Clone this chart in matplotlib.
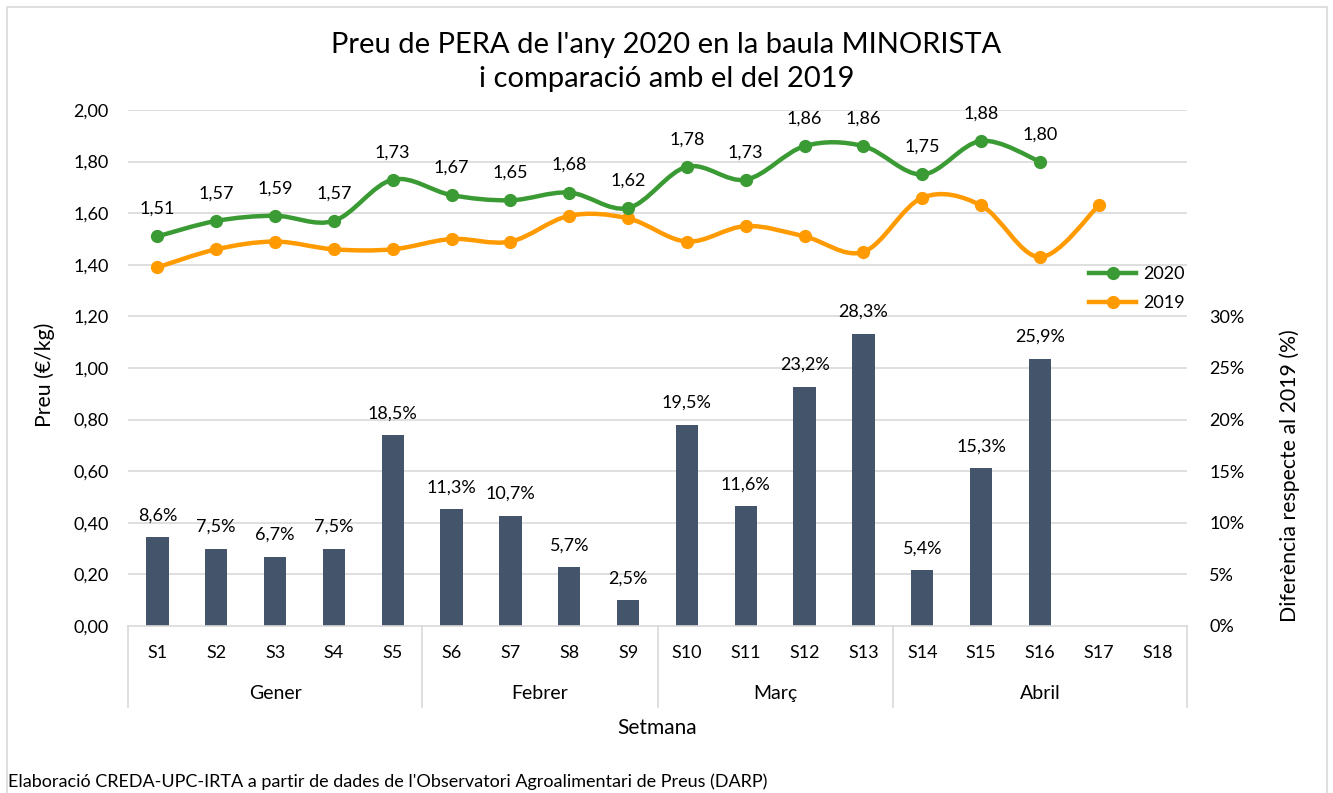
import numpy as np
import matplotlib.pyplot as plt
from matplotlib.path import Path
from matplotlib.patches import PathPatch, Rectangle
from matplotlib.lines import Line2D
import matplotlib.transforms as mtransforms

plt.rcParams['font.family'] = ['Lato', 'DejaVu Sans']

# data
weeks = ['S%d' % i for i in range(1, 19)]
months = ['Gener', 'Febrer', 'Març', 'Abril']
month_weeks = [5, 4, 4, 5]
price_2020 = [1.51, 1.57, 1.59, 1.57, 1.73, 1.67, 1.65, 1.68, 1.62,
              1.78, 1.73, 1.86, 1.86, 1.75, 1.88, 1.80]
price_2019 = [1.39, 1.46, 1.49, 1.46, 1.46, 1.50, 1.49, 1.59, 1.58,
              1.49, 1.55, 1.51, 1.45, 1.66, 1.63, 1.43, 1.63]
diff_pct = [8.6, 7.5, 6.7, 7.5, 18.5, 11.3, 10.7, 5.7, 2.5,
            19.5, 11.6, 23.2, 28.3, 5.4, 15.3, 25.9]

GREEN = '#3A9A33'
ORANGE = '#FF9A00'
BAR = '#44546A'
GRID = '#D9D9D9'
FS = 13


def fmt(v, nd=2):
    return f'{v:.{nd}f}'.replace('.', ',')


def smooth_path(x, y):
    # Excel-style smoothed line: cubic bezier through every point
    pts = np.column_stack([x, y]).astype(float)
    verts = [pts[0]]
    codes = [Path.MOVETO]
    n = len(pts)
    for i in range(n - 1):
        p0 = pts[i - 1] if i > 0 else pts[i]
        p1, p2 = pts[i], pts[i + 1]
        p3 = pts[i + 2] if i + 2 < n else pts[i + 1]
        c1 = p1 + (p2 - p0) / 6.0
        c2 = p2 - (p3 - p1) / 6.0
        verts += [c1, c2, p2]
        codes += [Path.CURVE4] * 3
    return Path(verts, codes)


fig = plt.figure(figsize=(13.33, 7.93), dpi=100)
ax = fig.add_axes([0.096, 0.2106, 0.7945, 0.6507])
ax2 = ax.twinx()

# chart border
fig.patches.append(Rectangle((7 / 1333, -0.05), 1320 / 1333, 1.05 - 7 / 793,
                             transform=fig.transFigure, fill=False,
                             edgecolor=GRID, linewidth=1.2))

x = np.arange(len(weeks))

# bars on secondary axis
ax2.set_zorder(1)
ax.set_zorder(2)
ax.patch.set_visible(False)
xb = x[:len(diff_pct)]
ax2.bar(xb, diff_pct, width=0.38, color=BAR, zorder=2)
for xi, v in zip(xb, diff_pct):
    ax2.annotate(fmt(v, 1) + '%', (xi, v), xytext=(0, 10), textcoords='offset points',
                 ha='center', va='bottom', fontsize=FS)
ax2.set_ylim(0, 50)
ax2.set_yticks(np.arange(0, 31, 5))
ax2.set_yticklabels([f'{t}%' for t in range(0, 31, 5)], fontsize=FS)
ax2.tick_params(axis='y', length=0, pad=16)
for s in ax2.spines.values():
    s.set_visible(False)

# lines on primary axis
ax.set_xlim(-0.5, len(weeks) - 0.5)
ax.set_ylim(0, 2.0)
ax.set_yticks(np.arange(0, 2.01, 0.2))
ax.set_yticklabels([fmt(t) for t in np.arange(0, 2.01, 0.2)], fontsize=FS)
ax.tick_params(axis='y', length=0, pad=14)
ax2.grid(False)
for yv in np.arange(0.2, 2.01, 0.2):
    ax2.axhline(yv * 25, color=GRID, linewidth=1.2, zorder=0)

for vals, col in [(price_2019, ORANGE), (price_2020, GREEN)]:
    xs = x[:len(vals)]
    ax.add_patch(PathPatch(smooth_path(xs, vals), facecolor='none', edgecolor=col,
                           linewidth=3.2, capstyle='round', zorder=3))
    ax.plot(xs, vals, linestyle='none', marker='o', markersize=8.5, color=col, zorder=4)

for xi, v in zip(x, price_2020):
    ax.annotate(fmt(v), (xi, v), xytext=(0, 14), textcoords='offset points',
                ha='center', va='bottom', fontsize=FS)

ax.set_xticks(x)
ax.set_xticklabels(weeks, fontsize=FS)
ax.tick_params(axis='x', length=0, pad=14)
for name, s in ax.spines.items():
    s.set_visible(name == 'bottom')
ax.spines['bottom'].set_color(GRID)
ax.spines['bottom'].set_linewidth(1.2)

# month grouping
trans = mtransforms.blended_transform_factory(ax.transData, ax.transAxes)
edges = np.concatenate([[0], np.cumsum(month_weeks)]) - 0.5
for e in edges:
    ax.add_line(Line2D([e, e], [0, -0.157], transform=trans, color=GRID,
                       linewidth=1.2, clip_on=False))
for m, a, b in zip(months, edges[:-1], edges[1:]):
    ax.text((a + b) / 2, -0.13, m, transform=trans, ha='center', va='center',
            fontsize=14)

ax.text(0.5, -0.197, 'Setmana', transform=ax.transAxes, ha='center', va='center',
        fontsize=15)
fig.text(45 / 1333, 1 - 375 / 793, 'Preu (€/kg)', rotation=90,
         ha='center', va='center', fontsize=15.3)
fig.text(1290 / 1333, 1 - 476 / 793, 'Diferència respecte al 2019 (%)', rotation=90,
         ha='center', va='center', fontsize=15.3)

fig.text(0.5, 1 - 45 / 793, "Preu de PERA de l'any 2020 en la baula MINORISTA",
         ha='center', va='center', fontsize=21)
fig.text(0.5, 1 - 79 / 793, 'i comparació amb el del 2019',
         ha='center', va='center', fontsize=21)

handles = [Line2D([], [], color=GREEN, linewidth=3.2, marker='o', markersize=8.5),
           Line2D([], [], color=ORANGE, linewidth=3.2, marker='o', markersize=8.5)]
ax.legend(handles, ['2020', '2019'], loc='upper right', bbox_to_anchor=(1.005, 0.712),
          frameon=False, fontsize=FS, handlelength=2.6, borderaxespad=0,
          labelspacing=0.75, handletextpad=0.4)

fig.text(8 / 1333, 3 / 793,
         "Elaboració CREDA-UPC-IRTA a partir de dades de l'Observatori Agroalimentari de Preus (DARP)",
         ha='left', va='bottom', fontsize=13)

fig.savefig('out.png', dpi=100)
